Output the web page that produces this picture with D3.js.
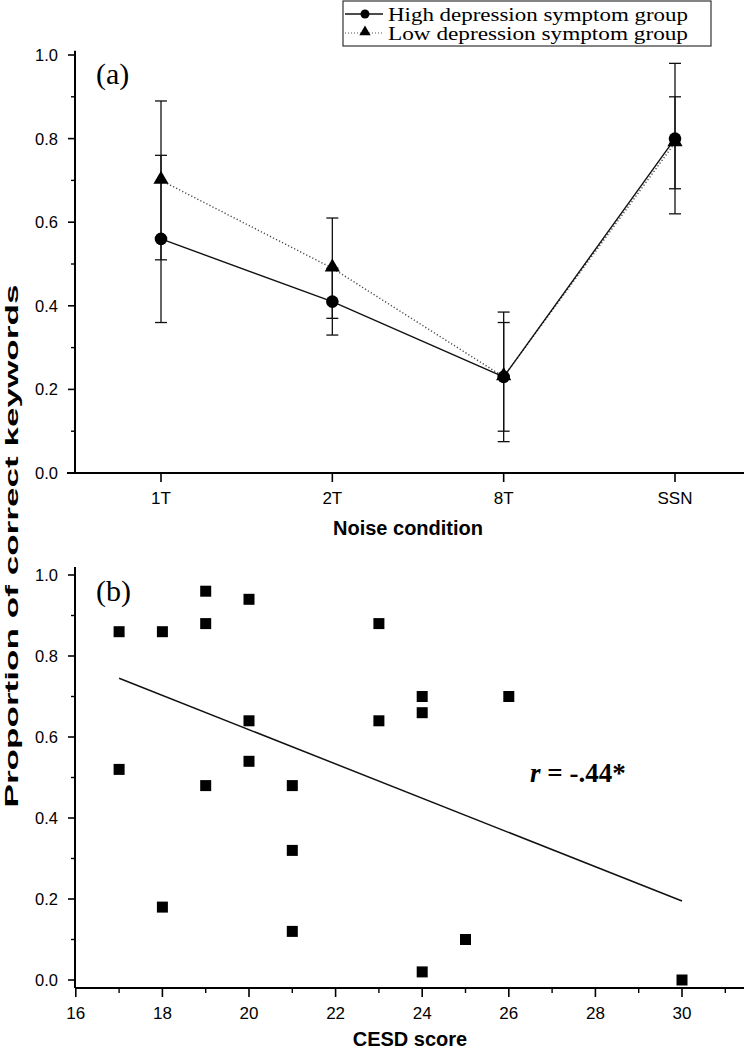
<!DOCTYPE html>
<html>
<head>
<meta charset="utf-8">
<script src="https://cdn.jsdelivr.net/npm/d3@7"></script>
<style>
  html, body { margin: 0; padding: 0; background: #fff; }
  svg { display: block; }
</style>
</head>
<body>
<svg id="chart" width="744" height="1050"></svg>
<script>
// ---------- Data ----------
const conditions = ["1T", "2T", "8T", "SSN"];
const highMean = [0.56, 0.41, 0.23, 0.80];
const highErr  = [0.20, 0.08, 0.13, 0.18];
const lowMean  = [0.70, 0.49, 0.23, 0.79];
const lowErr   = [0.19, 0.12, 0.155, 0.11];
const seriesNames = ["High depression symptom group", "Low depression symptom group"];

const cesdScore  = [17, 17, 18, 18, 19, 19, 19, 20, 20, 20, 21, 21, 21, 23, 23, 24, 24, 24, 25, 26, 30];
const propCorrect = [0.86, 0.52, 0.86, 0.18, 0.96, 0.88, 0.48, 0.94, 0.64, 0.54, 0.48, 0.32, 0.12, 0.88, 0.64, 0.70, 0.66, 0.02, 0.10, 0.70, 0.00];
const fitX = [17, 30];
const fitY = [0.745, 0.195];

const yTicks = [0, 0.2, 0.4, 0.6, 0.8, 1.0];
const yMinor = [0.1, 0.3, 0.5, 0.7, 0.9];
const xTicksB = [16, 18, 20, 22, 24, 26, 28, 30];
const xMinorB = [17, 19, 21, 23, 25, 27, 29, 31];

// ---------- Setup ----------
const svg = d3.select("#chart");
const sans = "'Liberation Sans', Arial, sans-serif";
const serif = "'Liberation Serif', 'Times New Roman', serif";
const axisX = 75;

// ---------- Panel (a) ----------
const ya = d3.scaleLinear().domain([0, 1]).range([473, 55]);
const xa = d3.scalePoint().domain(conditions).range([161, 675]);

const gA = svg.append("g");
gA.append("line").attr("x1", axisX).attr("x2", axisX).attr("y1", ya(1.01)).attr("y2", ya(0))
  .attr("stroke", "#000").attr("stroke-width", 2);
gA.append("line").attr("x1", 67).attr("x2", 744).attr("y1", ya(0)).attr("y2", ya(0))
  .attr("stroke", "#000").attr("stroke-width", 2);
gA.selectAll(".ytick").data(yTicks).join("line")
  .attr("x1", axisX - 7).attr("x2", axisX).attr("y1", d => ya(d)).attr("y2", d => ya(d))
  .attr("stroke", "#000").attr("stroke-width", 1.6);
gA.selectAll(".yminor").data(yMinor).join("line")
  .attr("x1", axisX - 4).attr("x2", axisX).attr("y1", d => ya(d)).attr("y2", d => ya(d))
  .attr("stroke", "#000").attr("stroke-width", 1.4);
gA.selectAll(".ylab").data(yTicks).join("text")
  .attr("x", 58).attr("y", d => ya(d) + 6).attr("text-anchor", "end")
  .attr("font-family", sans).attr("font-size", 16.5).text(d => d.toFixed(1));
gA.selectAll(".xtick").data(conditions).join("line")
  .attr("x1", d => xa(d)).attr("x2", d => xa(d)).attr("y1", ya(0)).attr("y2", ya(0) + 9)
  .attr("stroke", "#000").attr("stroke-width", 1.6);
gA.selectAll(".xlab").data(conditions).join("text")
  .attr("x", d => xa(d)).attr("y", 504).attr("text-anchor", "middle")
  .attr("font-family", sans).attr("font-size", 17).text(d => d);
gA.append("text").attr("x", 408).attr("y", 535).attr("text-anchor", "middle")
  .attr("font-family", sans).attr("font-weight", "bold").attr("font-size", 20)
  .text("Noise condition");
gA.append("text").attr("x", 96).attr("y", 84).attr("font-family", serif).attr("font-size", 30)
  .text("(a)");

function errorBars(g, means, errs) {
  const cw = 6;
  conditions.forEach((c, i) => {
    const x = xa(c), top = ya(means[i] + errs[i]), bot = ya(means[i] - errs[i]);
    g.append("line").attr("x1", x).attr("x2", x).attr("y1", top).attr("y2", bot)
      .attr("stroke", "#111").attr("stroke-width", 1.3);
    [top, bot].forEach(yy => g.append("line").attr("x1", x - cw).attr("x2", x + cw)
      .attr("y1", yy).attr("y2", yy).attr("stroke", "#111").attr("stroke-width", 1.3));
  });
}
errorBars(gA, lowMean, lowErr);
errorBars(gA, highMean, highErr);

const lineGen = d3.line().x((d, i) => xa(conditions[i])).y(d => ya(d));
gA.append("path").datum(lowMean).attr("d", lineGen).attr("fill", "none")
  .attr("stroke", "#444").attr("stroke-width", 1.4).attr("stroke-dasharray", "1.2,2.2");
gA.append("path").datum(highMean).attr("d", lineGen).attr("fill", "none")
  .attr("stroke", "#111").attr("stroke-width", 1.4);

const tri = d3.symbol().type(d3.symbolTriangle).size(100);
gA.selectAll(".tri").data(lowMean).join("path")
  .attr("d", tri).attr("transform", (d, i) => `translate(${xa(conditions[i])},${ya(d) - 1})`)
  .attr("fill", "#000");
gA.selectAll(".circ").data(highMean).join("circle")
  .attr("cx", (d, i) => xa(conditions[i])).attr("cy", d => ya(d)).attr("r", 6.3).attr("fill", "#000");

// legend
const lg = svg.append("g");
lg.append("rect").attr("x", 343).attr("y", 1).attr("width", 368).attr("height", 45)
  .attr("fill", "#fff").attr("stroke", "#333").attr("stroke-width", 1.2);
lg.append("line").attr("x1", 345).attr("x2", 383).attr("y1", 14).attr("y2", 14)
  .attr("stroke", "#111").attr("stroke-width", 1.4);
lg.append("circle").attr("cx", 365).attr("cy", 14).attr("r", 4.5).attr("fill", "#000");
lg.append("line").attr("x1", 345).attr("x2", 383).attr("y1", 33).attr("y2", 33)
  .attr("stroke", "#555").attr("stroke-width", 1.2).attr("stroke-dasharray", "1,2");
lg.append("path").attr("d", d3.symbol().type(d3.symbolTriangle).size(55))
  .attr("transform", "translate(365,32)").attr("fill", "#000");
lg.selectAll(".lt").data(seriesNames).join("text")
  .attr("x", 388).attr("y", (d, i) => 21 + i * 19)
  .attr("font-family", serif).attr("font-size", 19)
  .attr("textLength", 300).attr("lengthAdjust", "spacingAndGlyphs").text(d => d);

// ---------- Panel (b) ----------
const yb = d3.scaleLinear().domain([0, 1]).range([980, 575]);
const xb = d3.scaleLinear().domain([16, 30]).range([75.8, 682]);
const gB = svg.append("g");
gB.append("line").attr("x1", axisX).attr("x2", axisX).attr("y1", yb(1.02)).attr("y2", 988)
  .attr("stroke", "#000").attr("stroke-width", 2);
gB.append("line").attr("x1", axisX).attr("x2", 744).attr("y1", 988).attr("y2", 988)
  .attr("stroke", "#000").attr("stroke-width", 2);
gB.selectAll(".ytick").data(yTicks).join("line")
  .attr("x1", axisX - 7).attr("x2", axisX).attr("y1", d => yb(d)).attr("y2", d => yb(d))
  .attr("stroke", "#000").attr("stroke-width", 1.6);
gB.selectAll(".yminor").data(yMinor).join("line")
  .attr("x1", axisX - 4).attr("x2", axisX).attr("y1", d => yb(d)).attr("y2", d => yb(d))
  .attr("stroke", "#000").attr("stroke-width", 1.4);
gB.selectAll(".ylab").data(yTicks).join("text")
  .attr("x", 58).attr("y", d => yb(d) + 6).attr("text-anchor", "end")
  .attr("font-family", sans).attr("font-size", 16.5).text(d => d.toFixed(1));
gB.selectAll(".xtick").data(xTicksB).join("line")
  .attr("x1", d => xb(d)).attr("x2", d => xb(d)).attr("y1", 988).attr("y2", 997)
  .attr("stroke", "#000").attr("stroke-width", 1.6);
gB.selectAll(".xminor").data(xMinorB).join("line")
  .attr("x1", d => xb(d)).attr("x2", d => xb(d)).attr("y1", 988).attr("y2", 993)
  .attr("stroke", "#000").attr("stroke-width", 1.4);
gB.selectAll(".xlab").data(xTicksB).join("text")
  .attr("x", d => xb(d)).attr("y", 1019).attr("text-anchor", "middle")
  .attr("font-family", sans).attr("font-size", 17).text(d => d);
gB.append("text").attr("x", 410).attr("y", 1046).attr("text-anchor", "middle")
  .attr("font-family", sans).attr("font-weight", "bold").attr("font-size", 20)
  .text("CESD score");
gB.append("text").attr("x", 96).attr("y", 601).attr("font-family", serif).attr("font-size", 30)
  .text("(b)");

gB.append("line").attr("x1", xb(fitX[0])).attr("x2", xb(fitX[1]))
  .attr("y1", yb(fitY[0])).attr("y2", yb(fitY[1])).attr("stroke", "#111").attr("stroke-width", 1.5);

const sq = 11;
gB.selectAll(".pt").data(cesdScore).join("rect")
  .attr("x", d => xb(d) - sq / 2).attr("y", (d, i) => yb(propCorrect[i]) - sq / 2)
  .attr("width", sq).attr("height", sq).attr("fill", "#000");

const rt = gB.append("text").attr("x", 530).attr("y", 782).attr("font-family", serif)
  .attr("font-weight", "bold").attr("font-size", 27);
rt.append("tspan").attr("font-style", "italic").text("r");
rt.append("tspan").text(" = -.44*");

// shared y label
svg.append("text").attr("transform", "translate(18,546) rotate(-90)")
  .attr("text-anchor", "middle").attr("font-family", sans).attr("font-weight", "bold")
  .attr("font-size", 19).attr("textLength", 523).attr("lengthAdjust", "spacingAndGlyphs")
  .text("Proportion of correct keywords");
</script>
</body>
</html>
